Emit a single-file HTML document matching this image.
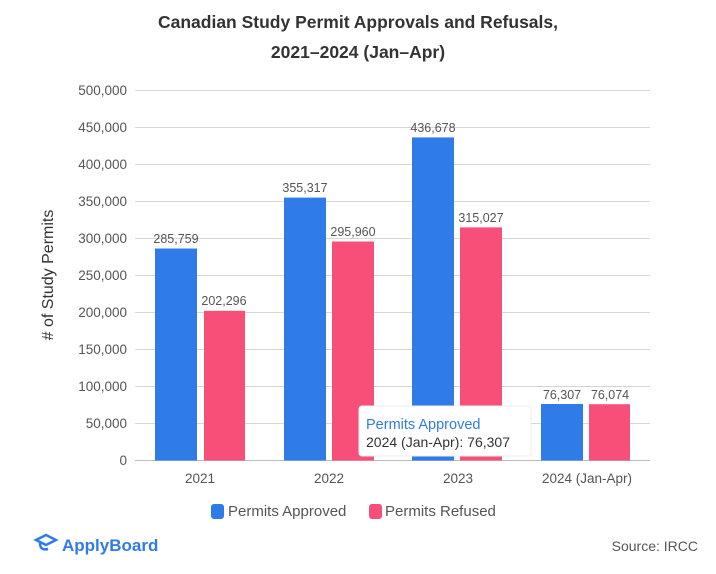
<!DOCTYPE html>
<html><head><meta charset="utf-8"><style>
body{margin:0;background:#fff;width:716px;height:569px;overflow:hidden;font-family:"Liberation Sans",sans-serif}
</style></head><body>
<svg width="716" height="569" xmlns="http://www.w3.org/2000/svg" font-family="Liberation Sans, sans-serif">
<text x="358" y="28" text-anchor="middle" font-size="17.5" font-weight="bold" fill="#333">Canadian Study Permit Approvals and Refusals,</text>
<text x="358" y="58" text-anchor="middle" font-size="17.5" font-weight="bold" fill="#333">2021–2024 (Jan–Apr)</text>
<g stroke="#d6d6d6" stroke-width="1">
<line x1="135" x2="650" y1="90.5" y2="90.5"/><line x1="135" x2="650" y1="127.5" y2="127.5"/>
<line x1="135" x2="650" y1="164.5" y2="164.5"/><line x1="135" x2="650" y1="201.5" y2="201.5"/>
<line x1="135" x2="650" y1="238.5" y2="238.5"/><line x1="135" x2="650" y1="275.5" y2="275.5"/>
<line x1="135" x2="650" y1="312.5" y2="312.5"/><line x1="135" x2="650" y1="349.5" y2="349.5"/>
<line x1="135" x2="650" y1="386.5" y2="386.5"/><line x1="135" x2="650" y1="423.5" y2="423.5"/>
</g>
<line x1="135" x2="650" y1="460.5" y2="460.5" stroke="#bbb"/>
<g font-size="13.5" fill="#555" text-anchor="end">
<text x="127" y="95">500,000</text><text x="127" y="132">450,000</text><text x="127" y="169">400,000</text>
<text x="127" y="206">350,000</text><text x="127" y="243">300,000</text><text x="127" y="280">250,000</text>
<text x="127" y="317">200,000</text><text x="127" y="354">150,000</text><text x="127" y="391">100,000</text>
<text x="127" y="428">50,000</text><text x="127" y="465">0</text>
</g>
<text transform="translate(53,275) rotate(-90)" text-anchor="middle" font-size="16" fill="#333"># of Study Permits</text>
<g fill="#2f7be8">
<rect x="155" y="248.5" width="42" height="212"/><rect x="284" y="197.6" width="42" height="262.9"/>
<rect x="412" y="137.4" width="42" height="323.1"/><rect x="541" y="404" width="42" height="56.5"/>
</g>
<g fill="#f74f78">
<rect x="204" y="310.8" width="41" height="149.7"/><rect x="332" y="241.5" width="42" height="219"/>
<rect x="460" y="227.4" width="42" height="233.1"/><rect x="589" y="404.2" width="41" height="56.3"/>
</g>
<g font-size="12.5" fill="#555" text-anchor="middle">
<text x="176" y="243">285,759</text><text x="224" y="305">202,296</text>
<text x="305" y="192">355,317</text><text x="353" y="236">295,960</text>
<text x="433" y="132">436,678</text><text x="481" y="222">315,027</text>
<text x="562" y="399">76,307</text><text x="610" y="399">76,074</text>
</g>
<g font-size="13.5" fill="#555" text-anchor="middle">
<text x="200" y="483">2021</text><text x="329" y="483">2022</text><text x="458" y="483">2023</text><text x="587" y="483">2024 (Jan-Apr)</text>
</g>
<rect x="359" y="406" width="172" height="50" fill="#fff" stroke="#eee" rx="3"/>
<text x="366" y="429" font-size="14.5" fill="#2f7be8">Permits Approved</text>
<text x="366" y="447" font-size="14" fill="#333">2024 (Jan-Apr): 76,307</text>
<rect x="211" y="504" width="13" height="15" rx="3" fill="#2f7be8"/>
<text x="228" y="516" font-size="15" fill="#555">Permits Approved</text>
<rect x="369" y="504" width="13" height="15" rx="3" fill="#f74f78"/>
<text x="385" y="516" font-size="15" fill="#555">Permits Refused</text>
<path d="M36 540 l10 -5 l10 5 l-10 5 z M40 543 q0 8 8 6" stroke="#2f7be8" stroke-width="2.5" fill="none"/>
<text x="62" y="551" font-size="17" font-weight="bold" fill="#2f7be8">ApplyBoard</text>
<text x="698" y="551" font-size="14" fill="#555" text-anchor="end">Source: IRCC</text>
</svg>
</body></html>
